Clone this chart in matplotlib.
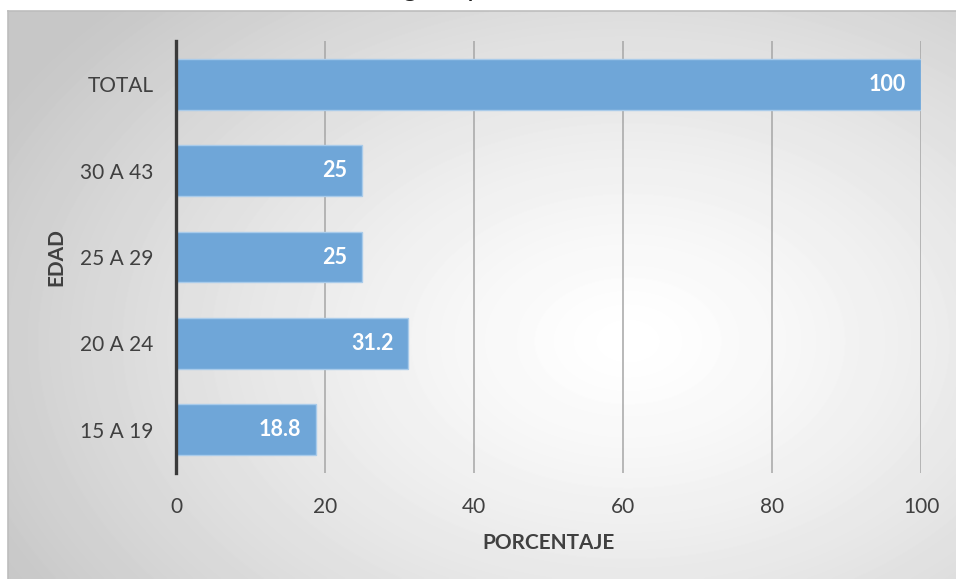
import numpy as np
import matplotlib
matplotlib.use('Agg')
import matplotlib.pyplot as plt

plt.rcParams['font.family'] = ['Lato', 'DejaVu Sans']

categorias = ['15 A 19', '20 A 24', '25 A 29', '30 A 43', 'TOTAL']
porcentaje = [18.8, 31.2, 25, 25, 100]
etiquetas = ['18.8', '31.2', '25', '25', '100']
ticks_x = [0, 20, 40, 60, 80, 100]

fig = plt.figure(figsize=(9.56, 5.79), dpi=100)

# fondo gris con degradado radial (marco del grafico)
bg = fig.add_axes([8/956, 0, 1 - 8/956, 1 - 11/579])
bg.set_zorder(-1)
h, w = 568, 948
yy, xx = np.mgrid[0:h, 0:w]
d = np.sqrt(((xx - 620) / 620.0)**2 + ((yy - 330) / 420.0)**2)
d = np.clip(d, 0, 1.15)
grad = 1.0 - 0.22 * (d / 1.15)**1.3
bg.imshow(grad, cmap='gray', vmin=0, vmax=1, aspect='auto',
          extent=[0, 1, 0, 1], interpolation='bilinear')
bg.set_xlim(0, 1)
bg.set_ylim(0, 1)
bg.set_xticks([])
bg.set_yticks([])
for s in ['right', 'bottom']:
    bg.spines[s].set_visible(False)
for s in ['top', 'left']:
    bg.spines[s].set_color('#bdbdbd')
    bg.spines[s].set_linewidth(1.2)

# titulo recortado arriba (en la referencia solo se ven los trazos inferiores)
fig.text(0.463, 1.0 + 4/579, 'g       p', fontsize=20, color='#222222',
         ha='center', va='baseline')

ax = fig.add_axes([176/956, 1 - 473/579, (921 - 176)/956, (473 - 41)/579])
ax.patch.set_alpha(0)

y = np.arange(len(categorias))
bars = ax.barh(y, porcentaje, height=0.59, color='#6fa6d8',
               edgecolor='#a9cbea', linewidth=1, zorder=3)

for b, t in zip(bars, etiquetas):
    ax.text(b.get_width() - 2.0, b.get_y() + b.get_height()/2, t,
            ha='right', va='center', color='white', fontsize=15.5,
            fontweight='bold', zorder=4)

ax.set_xlim(0, 100)
ax.set_ylim(-0.5, len(categorias) - 0.5)
ax.set_xticks(ticks_x)
ax.set_yticks(y)
ax.set_yticklabels(categorias)
ax.tick_params(axis='both', length=0, labelsize=15, labelcolor='#404040')
ax.tick_params(axis='y', pad=16)
ax.tick_params(axis='x', pad=17)

ax.grid(axis='x', color='#a6a6a6', linewidth=1.1, zorder=0)
ax.set_axisbelow(True)
for s in ['top', 'right', 'bottom']:
    ax.spines[s].set_visible(False)
ax.spines['left'].set_color('#3a3a3a')
ax.spines['left'].set_linewidth(2.4)
ax.spines['left'].set_zorder(5)

ax.set_xlabel('PORCENTAJE', fontsize=15, fontweight='bold', color='#404040',
              labelpad=12)
ax.set_ylabel('EDAD', fontsize=15, fontweight='bold', color='#404040',
              labelpad=10)

fig.savefig('out.png', dpi=100)
